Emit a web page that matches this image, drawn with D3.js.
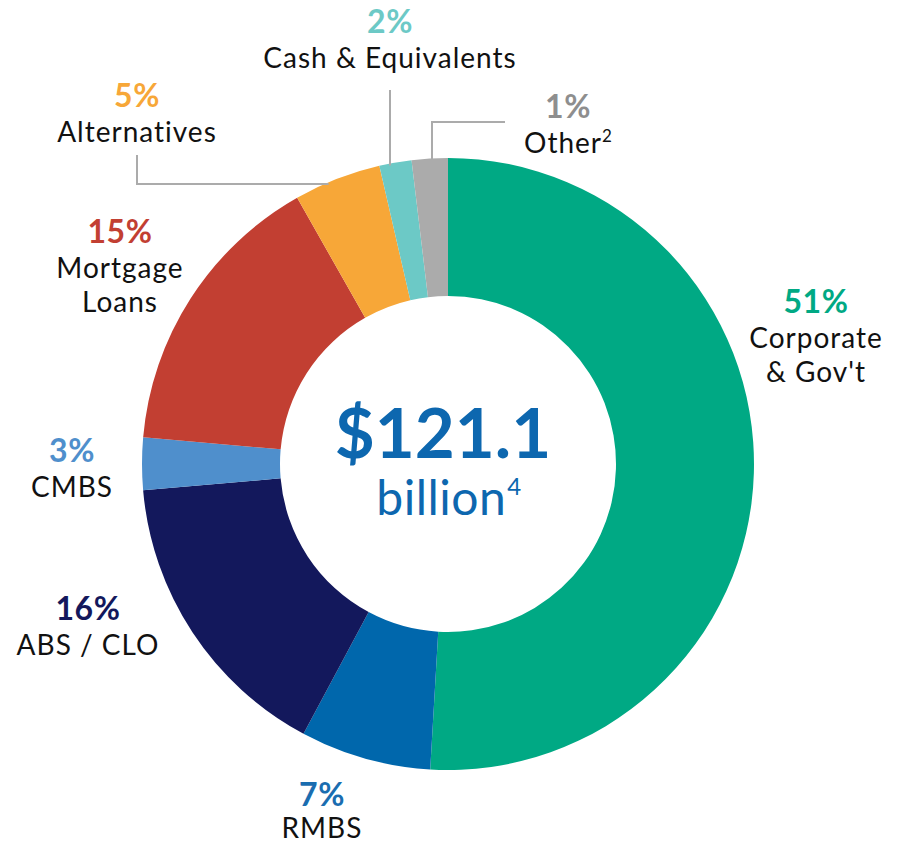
<!DOCTYPE html>
<html>
<head>
<meta charset="utf-8">
<script src="https://cdn.jsdelivr.net/npm/d3@7"></script>
<style>
  html, body { margin: 0; padding: 0; background: #ffffff; }
  svg { display: block; }
  text { font-family: Lato, "Noto Sans", sans-serif; }
</style>
</head>
<body>
<svg id="chart" width="901" height="845"></svg>
<script>
// ---- Data ----
const categories = ["Corporate & Gov't", "RMBS", "ABS / CLO", "CMBS", "Mortgage Loans", "Alternatives", "Cash & Equivalents", "Other"];
const values = [50.9, 6.9, 15.8, 2.75, 15.4, 4.6, 1.7, 1.9];
const pctLabels = ["51%", "7%", "16%", "3%", "15%", "5%", "2%", "1%"];
const nameLines = [["Corporate", "& Gov't"], ["RMBS"], ["ABS / CLO"], ["CMBS"], ["Mortgage", "Loans"], ["Alternatives"], ["Cash & Equivalents"], ["Other"]];
const nameSup = ["", "", "", "", "", "", "", "2"];
const colors = ["#00a984", "#0067ac", "#13185c", "#4f8fcc", "#c23f32", "#f7a738", "#6cc9c6", "#ababab"];
const pctColors = ["#00a984", "#1a6db0", "#13185c", "#4f8fcc", "#c23f32", "#f7a738", "#6cc9c6", "#8e8e8e"];
const totalValue = "$121.1";
const totalUnit = "billion";
const totalSup = "4";

// ---- Layout ----
const cx = 448, cy = 464, rOuter = 306, rInner = 168;
// label anchor positions (center x, baseline y of percent line)
const labelPos = [
  [816, 313], [322, 806], [88, 620], [72, 462], [120, 243], [137, 107], [390, 33], [568, 118]
];
const pctSize = 32, nameSize = 28, lineGap = 34, nameOffset = 35;

const svg = d3.select("#chart");
const g = svg.append("g").attr("transform", `translate(${cx},${cy})`);

const pie = d3.pie().sort(null).value(d => d);
const arcs = pie(values);
const arc = d3.arc().innerRadius(rInner).outerRadius(rOuter);

g.selectAll("path.slice").data(arcs).enter().append("path")
  .attr("class", "slice")
  .attr("d", arc)
  .attr("fill", (d, i) => colors[i]);

// ---- Leader lines ----
const lineColor = "#ababab";
function arcYAtX(x) { return cy - Math.sqrt(rOuter * rOuter - (x - cx) * (x - cx)); }
function arcXAtY(y) { return cx - Math.sqrt(rOuter * rOuter - (y - cy) * (y - cy)); }
const leaders = svg.append("g").attr("fill", "none").attr("stroke", lineColor).attr("stroke-width", 2);
// Alternatives
(function () {
  const x0 = labelPos[5][0], y0 = 155, yh = 184;
  leaders.append("path").attr("d", d3.line()([[x0, y0], [x0, yh], [arcXAtY(yh) + 4, yh]]));
})();
// Cash
(function () {
  const x0 = labelPos[6][0], y0 = 90;
  leaders.append("path").attr("d", d3.line()([[x0, y0], [x0, arcYAtX(x0) + 2]]));
})();
// Other
(function () {
  const x0 = cx - 16;
  const yh = 122;
  leaders.append("path").attr("d", d3.line()([[x0, arcYAtX(x0) + 2], [x0, yh], [505, yh]]));
})();

// ---- Labels ----
const labels = svg.append("g");
categories.forEach((c, i) => {
  const [x, y] = labelPos[i];
  labels.append("text")
    .attr("x", x).attr("y", y)
    .attr("text-anchor", "middle")
    .attr("font-size", pctSize).attr("font-weight", 700)
    .attr("letter-spacing", 0.5)
    .attr("fill", pctColors[i])
    .text(pctLabels[i]);
  nameLines[i].forEach((ln, j) => {
    const t = labels.append("text")
      .attr("x", x).attr("y", Math.min(y + nameOffset + j * lineGap, 838))
      .attr("text-anchor", "middle")
      .attr("font-size", nameSize)
      .attr("letter-spacing", 1)
      .attr("fill", "#111111");
    t.append("tspan").text(ln);
    if (nameSup[i] && j === nameLines[i].length - 1) {
      t.append("tspan").attr("font-size", 17).attr("dy", -11).attr("letter-spacing", 0).text(nameSup[i]);
    }
  });
});

// ---- Center text ----
svg.append("text")
  .attr("x", 443).attr("y", 458)
  .attr("text-anchor", "middle")
  .attr("font-size", 69).attr("font-weight", 700)
  .attr("fill", "#0d67af")
  .text(totalValue);
const t2 = svg.append("text")
  .attr("x", 449).attr("y", 515)
  .attr("text-anchor", "middle")
  .attr("font-size", 48)
  .attr("letter-spacing", 0.5)
  .attr("fill", "#0d67af");
t2.append("tspan").text(totalUnit);
t2.append("tspan").attr("font-size", 24).attr("dy", -20).attr("dx", 1).text(totalSup);
</script>
</body>
</html>
